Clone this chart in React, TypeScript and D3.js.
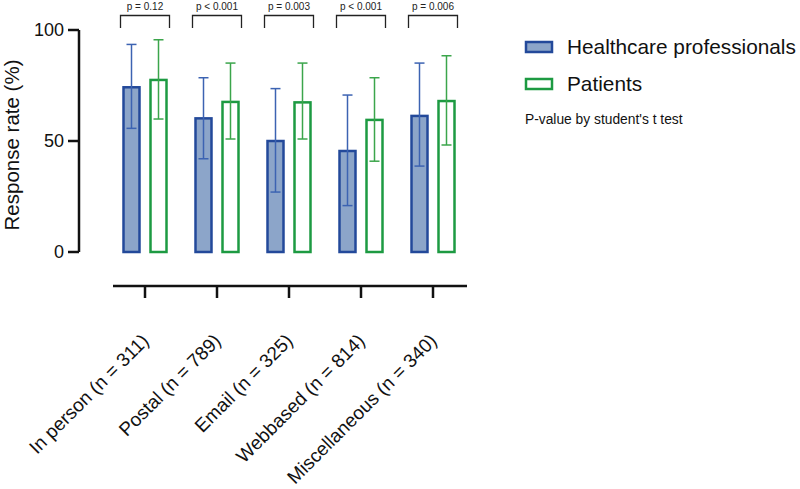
import React, { useEffect, useRef } from 'react';
import * as d3 from 'd3';

// values
const categories = ['In person (n = 311)', 'Postal (n = 789)', 'Email (n = 325)', 'Webbased (n = 814)', 'Miscellaneous (n = 340)'];
const seriesNames = ['Healthcare professionals', 'Patients'];
const hcpMean = [74.2, 60.2, 50, 45.5, 61.3];
const hcpLow = [55.7, 42, 27, 20.9, 38.7];
const hcpHigh = [93.5, 78.5, 73.6, 70.7, 85.1];
const patMean = [77.5, 67.6, 67.4, 59.5, 68];
const patLow = [59.9, 50.9, 50.9, 40.9, 48.2];
const patHigh = [95.6, 85.1, 85.1, 78.5, 88.4];
const pValues = ['p = 0.12', 'p < 0.001', 'p = 0.003', 'p < 0.001', 'p = 0.006'];
const yTicks = [0, 50, 100];

const width = 800;
const height = 489;
const font = 'Arial, "Liberation Sans", sans-serif';

const styles = [
  { fill: '#8ca5c9', stroke: '#23499a', err: '#3c63b2' },
  { fill: '#ffffff', stroke: '#1d9a42', err: '#3ba54b' },
];

const App: React.FC = () => {
  const svgRef = useRef<SVGSVGElement>(null);

  useEffect(() => {
    if (!svgRef.current) return;
    const svg = d3.select(svgRef.current);
    svg.selectAll('*').remove();

    const y = d3.scaleLinear().domain([0, 100]).range([252, 30]);
    const x = d3.scalePoint<string>().domain(categories).range([145, 433]);
    const offset = d3.scaleOrdinal<string, number>().domain(seriesNames).range([-13.5, 13.5]);
    const barW = 16;

    const g = svg.append('g').attr('font-family', font);

    // y axis
    g.append('line')
      .attr('x1', 79).attr('x2', 79)
      .attr('y1', y(100)).attr('y2', y(0))
      .attr('stroke', '#111').attr('stroke-width', 2.5);
    const yt = g.append('g').selectAll('g').data(yTicks).join('g')
      .attr('transform', d => `translate(0,${y(d)})`);
    yt.append('line').attr('x1', 68).attr('x2', 79).attr('stroke', '#111').attr('stroke-width', 2.5);
    yt.append('text')
      .attr('x', 64).attr('dy', '0.36em')
      .attr('text-anchor', 'end')
      .attr('font-size', 18)
      .attr('fill', '#111')
      .text(d => d);

    g.append('text')
      .attr('transform', `translate(19,${(y(0) + y(100)) / 2 + 4}) rotate(-90)`)
      .attr('text-anchor', 'middle')
      .attr('font-size', 20.5)
      .attr('fill', '#111')
      .text('Response rate (%)');

    // x axis
    g.append('line')
      .attr('x1', 113).attr('x2', 467)
      .attr('y1', 286).attr('y2', 286)
      .attr('stroke', '#111').attr('stroke-width', 2.5);
    const xt = g.append('g').selectAll('g').data(categories).join('g')
      .attr('transform', d => `translate(${x(d)},286)`);
    xt.append('line').attr('y1', 0).attr('y2', 12).attr('stroke', '#111').attr('stroke-width', 2.5);
    xt.append('text')
      .attr('transform', 'translate(5,56) rotate(-45)')
      .attr('text-anchor', 'end')
      .attr('font-size', 19)
      .attr('fill', '#111')
      .text(d => d);

    // bars
    const series = [
      { name: seriesNames[0], mean: hcpMean, low: hcpLow, high: hcpHigh, s: styles[0] },
      { name: seriesNames[1], mean: patMean, low: patLow, high: patHigh, s: styles[1] },
    ];
    series.forEach(se => {
      const sg = g.append('g');
      categories.forEach((c, i) => {
        const cx = (x(c) ?? 0) + offset(se.name);
        sg.append('rect')
          .attr('x', cx - barW / 2).attr('width', barW)
          .attr('y', y(se.mean[i])).attr('height', y(0) - y(se.mean[i]))
          .attr('fill', se.s.fill).attr('stroke', se.s.stroke).attr('stroke-width', 2.5);
        sg.append('line')
          .attr('x1', cx).attr('x2', cx)
          .attr('y1', y(se.high[i])).attr('y2', y(se.low[i]))
          .attr('stroke', se.s.err).attr('stroke-width', 1.5);
        [se.high[i], se.low[i]].forEach(v => {
          sg.append('line')
            .attr('x1', cx - 5).attr('x2', cx + 5)
            .attr('y1', y(v)).attr('y2', y(v))
            .attr('stroke', se.s.err).attr('stroke-width', 1.5);
        });
      });
    });

    // p-value brackets
    categories.forEach((c, i) => {
      const cx = x(c) ?? 0;
      const x0 = cx + offset(seriesNames[0]) - 11;
      const x1 = cx + offset(seriesNames[1]) + 11;
      g.append('path')
        .attr('d', `M${x0},28V15.5H${x1}V28`)
        .attr('fill', 'none').attr('stroke', '#222').attr('stroke-width', 1.3);
      g.append('text')
        .attr('x', cx).attr('y', 10)
        .attr('text-anchor', 'middle')
        .attr('font-size', 10)
        .attr('fill', '#222')
        .text(pValues[i]);
    });

    // legend
    const lg = g.append('g');
    series.forEach((se, i) => {
      const ly = 47 + i * 37;
      lg.append('rect')
        .attr('x', 526).attr('y', ly - 5).attr('width', 26).attr('height', 10)
        .attr('fill', se.s.fill).attr('stroke', se.s.stroke).attr('stroke-width', 2.5);
      lg.append('text')
        .attr('x', 567).attr('y', ly).attr('dy', '0.36em')
        .attr('font-size', 20.8)
        .attr('fill', '#111')
        .text(se.name);
    });
    lg.append('text')
      .attr('x', 525).attr('y', 119).attr('dy', '0.36em')
      .attr('font-size', 13.8)
      .attr('fill', '#111')
      .text("P-value by student's t test");
  }, []);

  return (
    <svg ref={svgRef} width={width} height={height}
      style={{ position: 'absolute', left: 0, top: 0, background: '#fff' }} />
  );
};

export default App;
